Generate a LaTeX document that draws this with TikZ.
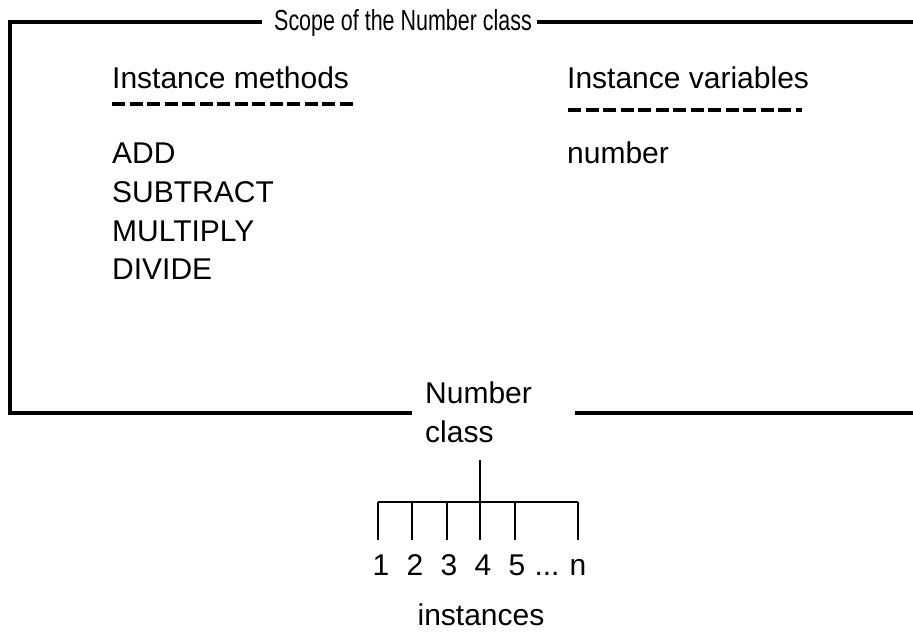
\documentclass[tikz,border=0pt]{standalone}
\usepackage{fontspec}
\usepackage{graphicx}
\setmainfont{Liberation Sans}
\begin{document}
\begin{tikzpicture}[x=1pt,y=-1pt,
  txt/.style={inner sep=0pt,anchor=base west,font=\fontsize{30}{36}\selectfont},
  ttl/.style={inner sep=0pt,anchor=base west,font=\fontsize{29}{34}\selectfont},
  num/.style={inner sep=0pt,anchor=base,font=\fontsize{30}{36}\selectfont},
  frame/.style={line width=4pt},
  rule/.style={line width=3.5pt,dash pattern=on 13pt off 4.5pt},
  tree/.style={line width=1.6pt}]
\useasboundingbox (0,0) rectangle (913,632);
% frame
\coordinate (tl) at (9.5,22);
\coordinate (bl) at (9.5,413);
\coordinate (tlend) at (262,22);
\coordinate (trstart) at (537,22);
\coordinate (tr) at (913,22);
\coordinate (blend) at (412,413);
\coordinate (brstart) at (575,413);
\coordinate (br) at (913,413);
\node[ttl] (title) at (274,30) {\scalebox{0.74}[1]{Scope of the Number class}};
\draw[frame] (tlend) -- (tl) -- (bl) -- (blend);
\draw[frame] (trstart) -- (tr);
\draw[frame] (brstart) -- (br);
% columns
\node[txt] (imeth) at (112,88) {Instance methods};
\node[txt] (ivar) at (567,88) {Instance variables};
\coordinate (r1a) at (112,104);
\coordinate (r1b) at (353,104);
\coordinate (r2a) at (568,110);
\coordinate (r2b) at (802,110);
\draw[rule] (r1a) -- (r1b);
\draw[rule] (r2a) -- (r2b);
\node[txt] (m1) at (112,163) {ADD};
\node[txt] (m2) at (112,202) {SUBTRACT};
\node[txt] (m3) at (112,241) {MULTIPLY};
\node[txt] (m4) at (112,279) {DIVIDE};
\node[txt] (v1) at (567,163) {number};
% class label
\node[txt] (cls1) at (425,403) {Number};
\node[txt] (cls2) at (425,442) {class};
% tree
\coordinate (stem) at (480,460);
\coordinate (hub) at (480,502);
\coordinate (barL) at (378,502);
\coordinate (barR) at (578,502);
\draw[tree] (stem) -- (hub);
\draw[tree] (barL) -- (barR);
\foreach \x/\n in {378/1,412/2,447/3,480/4,515/5,578/6}{
  \coordinate (tt\n) at (\x,502);
  \coordinate (tb\n) at (\x,540);
  \draw[tree] (tt\n) -- (tb\n);
}
\node[num] (i1) at (381,575) {1};
\node[num] (i2) at (415,575) {2};
\node[num] (i3) at (449,575) {3};
\node[num] (i4) at (483,575) {4};
\node[num] (i5) at (517,575) {5};
\node[num] (idots) at (547,575) {...};
\node[num] (in) at (578,575) {n};
\node[num] (inst) at (481,625) {instances};
\end{tikzpicture}
\end{document}
